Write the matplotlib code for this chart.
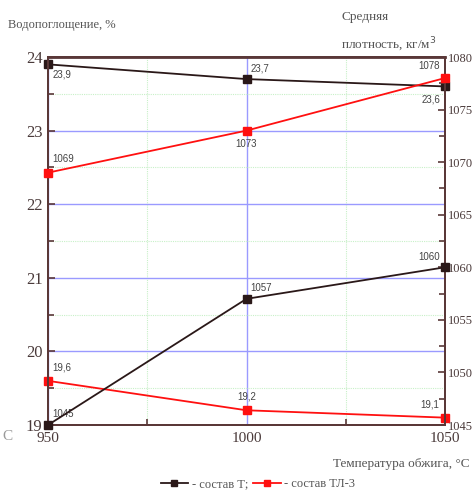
import matplotlib
matplotlib.use("Agg")
import matplotlib.pyplot as plt
from matplotlib.ticker import MultipleLocator
from matplotlib.lines import Line2D

temps = [950, 1000, 1050]
water_T = [23.9, 23.7, 23.6]
water_TL3 = [19.6, 19.2, 19.1]
dens_T = [1045, 1057, 1060]
dens_TL3 = [1069, 1073, 1078]
water_T_lbl = ["23,9", "23,7", "23,6"]
water_TL3_lbl = ["19,6", "19,2", "19,1"]
dens_T_lbl = ["1045", "1057", "1060"]
dens_TL3_lbl = ["1069", "1073", "1078"]
xticks = [950, 1000, 1050]
left_ticks = [19, 20, 21, 22, 23, 24]
right_ticks = [1045, 1050, 1055, 1060, 1065, 1070, 1075, 1080]

W, H = 476, 491
fig = plt.figure(figsize=(W / 100, H / 100), dpi=100)
L, R, T, B = 48, 445, 57, 425
ax = fig.add_axes([L / W, 1 - B / H, (R - L) / W, (B - T) / H])
ax2 = ax.twinx()

spine_c = "#5a3838"
blk = "#2a1818"
red = "#ff1010"
serif = ["Liberation Serif", "DejaVu Serif"]
sans = ["Liberation Sans", "DejaVu Sans"]

ax.set_xlim(950, 1050)
ax.set_ylim(19, 24)
ax2.set_ylim(1045, 1080)
ax.set_xticks(xticks)
ax.xaxis.set_minor_locator(MultipleLocator(25))
ax.set_yticks(left_ticks)
ax.yaxis.set_minor_locator(MultipleLocator(0.5))
ax2.set_yticks(right_ticks)
ax2.yaxis.set_minor_locator(MultipleLocator(2.5))

ax.grid(which="major", color="#9a9aff", lw=1.0)
ax.grid(which="minor", color="#c8f0c8", lw=0.8, ls=(0, (1, 1)))
ax.set_axisbelow(True)

for a in (ax, ax2):
    for s in a.spines.values():
        s.set_color(spine_c)
        s.set_linewidth(1.4)
    a.tick_params(which="both", direction="in", color=spine_c, width=1.2)
    a.tick_params(which="major", length=5)
    a.tick_params(which="minor", length=4)
ax.spines["top"].set_linewidth(2.0)
ax.tick_params(axis="y", which="both", right=False)
ax.tick_params(axis="x", which="major", length=0, pad=5)
ax.tick_params(axis="y", which="major", pad=4)
ax2.tick_params(axis="y", which="major", pad=2)

for lbl in ax.get_xticklabels() + ax.get_yticklabels() + ax2.get_yticklabels():
    lbl.set_fontfamily(serif)
    lbl.set_color("#4a3a3a")
for lbl in ax.get_yticklabels():
    lbl.set_fontsize(12)
for lbl in ax.get_xticklabels():
    lbl.set_fontsize(11)
for lbl in ax2.get_yticklabels():
    lbl.set_fontsize(9)

ms = 6
ax.plot(temps, water_T, color=blk, lw=1.3, marker="s", ms=ms, clip_on=False, zorder=5)
ax.plot(temps, water_TL3, color=red, lw=1.3, marker="s", ms=ms, clip_on=False, zorder=5)
ax2.plot(temps, dens_T, color=blk, lw=1.3, marker="s", ms=ms, clip_on=False, zorder=5)
ax2.plot(temps, dens_TL3, color=red, lw=1.3, marker="s", ms=ms, clip_on=False, zorder=5)

lk = dict(fontsize=7, color="#444444", fontfamily=sans)
off = [(3, -4, "left", "top"), (3, 4, "left", "bottom"), (-3, -6, "right", "top")]
for x, y, t, o in zip(temps, water_T, water_T_lbl, off):
    ax.annotate(t, (x, y), xytext=o[:2], textcoords="offset points", ha=o[2], va=o[3], **lk)
off = [(3, 6, "left", "bottom"), (0, 6, "center", "bottom"), (-4, 6, "right", "bottom")]
for x, y, t, o in zip(temps, water_TL3, water_TL3_lbl, off):
    ax.annotate(t, (x, y), xytext=o[:2], textcoords="offset points", ha=o[2], va=o[3], **lk)
off = [(3, 4, "left", "bottom"), (3, 4, "left", "bottom"), (-4, 4, "right", "bottom")]
for x, y, t, o in zip(temps, dens_T, dens_T_lbl, off):
    ax2.annotate(t, (x, y), xytext=o[:2], textcoords="offset points", ha=o[2], va=o[3], **lk)
off = [(3, 6, "left", "bottom"), (0, -6, "center", "top"), (-4, 5, "right", "bottom")]
for x, y, t, o in zip(temps, dens_TL3, dens_TL3_lbl, off):
    ax2.annotate(t, (x, y), xytext=o[:2], textcoords="offset points", ha=o[2], va=o[3], **lk)

tc = "#555555"
fig.text(8 / W, 1 - 25 / H, "Водопоглощение, %", fontsize=9, family=serif, color=tc, va="center", ha="left")
fig.text(341 / W, 1 - 17 / H, "Средняя", fontsize=9.5, family=serif, color=tc, va="center", ha="left")
fig.text(341 / W, 1 - 45 / H, "плотность, кг/м$^3$", fontsize=9.5, family=serif, color=tc, va="center", ha="left")
fig.text(2 / W, 1 - 437 / H, "С", fontsize=11, family=serif, color="#999999", va="center", ha="left")
fig.text(470 / W, 1 - 464 / H, "Температура обжига, °С", fontsize=9.5, family=serif, color=tc, va="center", ha="right")

handles = [Line2D([], [], color=blk, lw=1.3, marker="s", ms=5),
           Line2D([], [], color=red, lw=1.3, marker="s", ms=5)]
fig.legend(handles, ["- состав Т;", "- состав ТЛ-3"], loc="center", bbox_to_anchor=(258 / W, 1 - 484 / H),
           ncol=2, frameon=False, prop={"family": serif, "size": 9}, handlelength=2.2,
           handletextpad=0.3, columnspacing=0.4, labelcolor=tc)

fig.savefig("out.png", dpi=100)
